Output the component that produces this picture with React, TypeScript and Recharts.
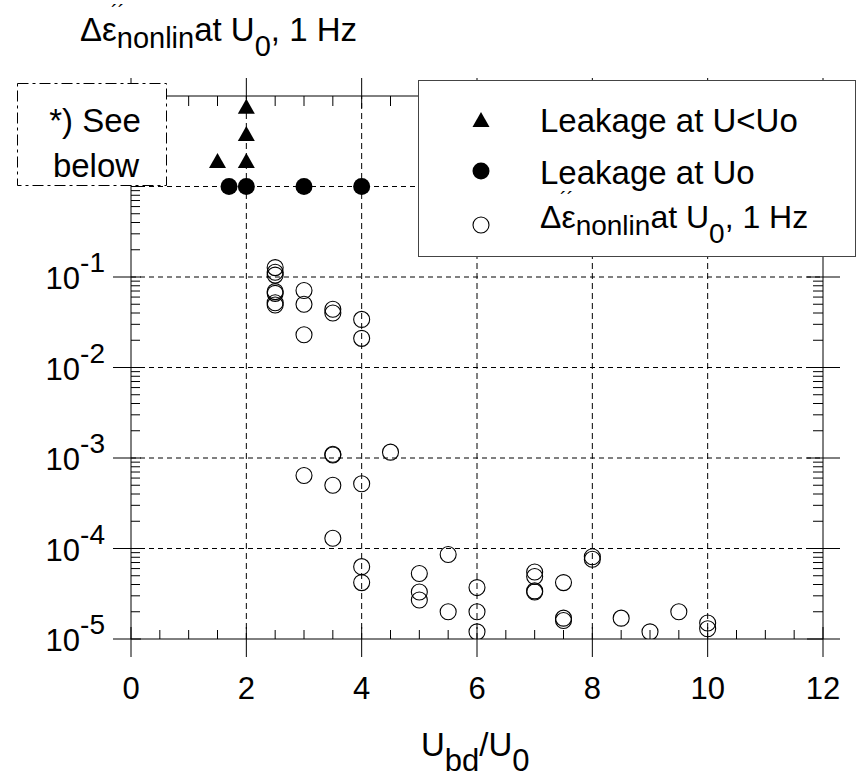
import React from 'react';
import { ScatterChart, Scatter, XAxis, YAxis, ReferenceLine, Legend } from 'recharts';

const FONT = '"Liberation Sans", Arial, Helvetica, sans-serif';

// axis ticks: minor every 0.5, labels every 2
const xTicks = [0, 0.5, 1, 1.5, 2, 2.5, 3, 3.5, 4, 4.5, 5, 5.5, 6, 6.5, 7, 7.5, 8, 8.5, 9, 9.5, 10, 10.5, 11, 11.5, 12];
const xGrid = [2, 4, 6, 8, 10];
const yDecades = [1e-5, 1e-4, 1e-3, 1e-2, 1e-1, 1, 10];
const yGrid = [1e-4, 1e-3, 1e-2, 1e-1, 1];
const yMantissas = [1, 2, 3, 4, 5, 6, 7, 8, 9];
const yTicks = yDecades.flatMap((d, i) => (i === yDecades.length - 1 ? [d] : yMantissas.map((m) => m * d)));

// series
const leakBelow = [
  { x: 1.5, y: 1.87 },
  { x: 2, y: 1.87 },
  { x: 2, y: 3.7 },
  { x: 2, y: 7.4 },
];
const leakAt = [
  { x: 1.7, y: 1 },
  { x: 2, y: 1 },
  { x: 3, y: 1 },
  { x: 4, y: 1 },
];
const epsNonlin = [
  { x: 2.5, y: 0.127 }, { x: 2.5, y: 0.113 }, { x: 2.5, y: 0.105 }, { x: 2.5, y: 0.069 },
  { x: 2.5, y: 0.066 }, { x: 2.5, y: 0.052 }, { x: 2.5, y: 0.049 },
  { x: 3, y: 0.071 }, { x: 3, y: 0.05 }, { x: 3, y: 0.023 }, { x: 3, y: 6.4e-4 },
  { x: 3.5, y: 0.044 }, { x: 3.5, y: 0.04 }, { x: 3.5, y: 1.08e-3 }, { x: 3.5, y: 1.1e-3 },
  { x: 3.5, y: 5.0e-4 }, { x: 3.5, y: 1.3e-4 },
  { x: 4, y: 0.034 }, { x: 4, y: 0.021 }, { x: 4, y: 5.2e-4 }, { x: 4, y: 6.3e-5 }, { x: 4, y: 4.2e-5 },
  { x: 4.5, y: 1.16e-3 },
  { x: 5, y: 5.3e-5 }, { x: 5, y: 3.3e-5 }, { x: 5, y: 2.7e-5 },
  { x: 5.5, y: 8.6e-5 }, { x: 5.5, y: 2.0e-5 },
  { x: 6, y: 3.7e-5 }, { x: 6, y: 2.0e-5 }, { x: 6, y: 1.2e-5 },
  { x: 7, y: 5.5e-5 }, { x: 7, y: 4.9e-5 }, { x: 7, y: 3.4e-5 }, { x: 7, y: 3.3e-5 },
  { x: 7.5, y: 4.2e-5 }, { x: 7.5, y: 1.7e-5 }, { x: 7.5, y: 1.6e-5 },
  { x: 8, y: 8.1e-5 }, { x: 8, y: 7.6e-5 },
  { x: 8.5, y: 1.7e-5 },
  { x: 9, y: 1.2e-5 },
  { x: 9.5, y: 2.0e-5 },
  { x: 10, y: 1.5e-5 }, { x: 10, y: 1.3e-5 },
];

const isDecade = (v: number) => Math.abs(Math.log10(v) - Math.round(Math.log10(v))) < 1e-6;

function BottomTick({ x, y, payload }: any) {
  const v = payload.value;
  const major = v % 2 === 0;
  return (
    <g>
      <line x1={x} x2={x} y1={y - (major ? 12 : 9)} y2={y + (major ? 18 : 0)} stroke="#000" />
      {major && (
        <text x={x} y={y + 60} textAnchor="middle" fontSize={31} fontFamily={FONT} fill="#000">
          {v}
        </text>
      )}
    </g>
  );
}

function TopTick({ x, y, payload }: any) {
  const major = payload.value % 2 === 0;
  return <line x1={x} x2={x} y1={y - (major ? 18 : 0)} y2={y + (major ? 12 : 10)} stroke="#000" />;
}

function LeftTick({ x, y, payload }: any) {
  const v = payload.value;
  const major = isDecade(v);
  const e = Math.round(Math.log10(v));
  return (
    <g>
      <line x1={x - (major && e < 0 ? 18 : 0)} x2={x + (major ? 10 : 9)} y1={y} y2={y} stroke="#000" />
      {major && e < 0 && (
        <text x={x - 26} y={y + 12} textAnchor="end" fontSize={31} fontFamily={FONT} fill="#000">
          10<tspan dy={-17} fontSize={28}>{'-' + Math.abs(e)}</tspan>
        </text>
      )}
    </g>
  );
}

function RightTick({ x, y, payload }: any) {
  const major = isDecade(payload.value);
  return <line x1={x - (major ? 16 : 10)} x2={x + (major ? 17 : 0)} y1={y} y2={y} stroke="#000" />;
}

const Triangle = ({ cx, cy }: any) => (
  <polygon points={`${cx},${cy - 9} ${cx - 8.5},${cy + 6} ${cx + 8.5},${cy + 6}`} fill="#000" />
);
const Dot = ({ cx, cy }: any) => <circle cx={cx} cy={cy} r={8.5} fill="#000" />;
const Ring = ({ cx, cy }: any) => <circle cx={cx} cy={cy} r={8} fill="none" stroke="#000" strokeWidth={1.1} />;

function EpsLabel({ x, y, size, px, py }: { x: number; y: number; size: number; px: number; py: number }) {
  const sub = size - 4;
  return (
    <g fontFamily={FONT} fill="#000">
      <text x={x} y={y} fontSize={size}>
        Δε<tspan dy={7} fontSize={sub}>nonlin</tspan>
        <tspan dy={-7} fontSize={size}>at U</tspan>
        <tspan dy={15} fontSize={sub}>0</tspan>
        <tspan dy={-15} fontSize={size}>, 1 Hz</tspan>
      </text>
      <text x={x + px} y={y + py} fontSize={20}>´´</text>
    </g>
  );
}

function LegendBox({ payload }: any) {
  const rows = [
    { base: 51, sym: 40 },
    { base: 103, sym: 90 },
    { base: 147, sym: 144 },
  ];
  return (
    <div style={{ width: 438, height: 177, background: '#fff', border: '1.5px solid #444', boxSizing: 'border-box' }}>
      <svg width={436} height={174} style={{ display: 'block' }}>
        {(payload || []).map((p: any, i: number) => {
          const r = rows[i];
          if (!r) return null;
          const cx = 62;
          return (
            <g key={i}>
              {i === 0 && <Triangle cx={cx} cy={r.sym} />}
              {i === 1 && <Dot cx={cx} cy={r.sym} />}
              {i === 2 && <Ring cx={cx} cy={r.sym} />}
              {i < 2 ? (
                <text x={121} y={r.base} fontSize={33} fontFamily={FONT} fill="#000">
                  {p.value}
                </text>
              ) : (
                <EpsLabel x={121} y={r.base} size={32} px={20} py={-22} />
              )}
            </g>
          );
        })}
      </svg>
    </div>
  );
}

export default function App() {
  return (
    <div style={{ position: 'absolute', left: 0, top: 0, width: 857, height: 778, background: '#fff' }}>
      <ScatterChart width={857} height={778} margin={{ top: 95, right: 33, bottom: 138, left: 130 }}>
        {xGrid.map((v) => (
          <ReferenceLine key={'gx' + v} x={v} stroke="#000" strokeDasharray="6 4" />
        ))}
        {yGrid.map((v) => (
          <ReferenceLine key={'gy' + v} y={v} stroke="#000" strokeDasharray="5 4" />
        ))}
        <XAxis
          type="number"
          dataKey="x"
          domain={[0, 12]}
          ticks={xTicks}
          interval={0}
          height={1}
          tickSize={0}
          tickMargin={0}
          tickLine={false}
          axisLine={{ stroke: '#000' }}
          tick={BottomTick}
          allowDataOverflow
        />
        <XAxis
          xAxisId="top"
          orientation="top"
          type="number"
          dataKey="x"
          domain={[0, 12]}
          ticks={xTicks}
          interval={0}
          height={1}
          tickSize={0}
          tickMargin={0}
          tickLine={false}
          axisLine={{ stroke: '#000' }}
          tick={TopTick}
          allowDataOverflow
        />
        <YAxis
          type="number"
          dataKey="y"
          scale="log"
          domain={[1e-5, 10]}
          ticks={yTicks}
          interval={0}
          width={1}
          tickSize={0}
          tickMargin={0}
          tickLine={false}
          axisLine={{ stroke: '#000' }}
          tick={LeftTick}
          allowDataOverflow
        />
        <YAxis
          yAxisId="right"
          orientation="right"
          type="number"
          dataKey="y"
          scale="log"
          domain={[1e-5, 10]}
          ticks={yTicks}
          interval={0}
          width={1}
          tickSize={0}
          tickMargin={0}
          tickLine={false}
          axisLine={{ stroke: '#000' }}
          tick={RightTick}
          allowDataOverflow
        />
        <Scatter name="Leakage at U<Uo" data={leakBelow} shape={Triangle} legendType="triangle" fill="#000" isAnimationActive={false} />
        <Scatter name="Leakage at Uo" data={leakAt} shape={Dot} legendType="circle" fill="#000" isAnimationActive={false} />
        <Scatter name="Δε''nonlin at U0, 1 Hz" data={epsNonlin} shape={Ring} legendType="circle" fill="#fff" isAnimationActive={false} />
        <Legend
          layout="horizontal"
          verticalAlign="middle"
          align="center"
          width={438}
          height={177}
          wrapperStyle={{ left: 418, top: 80, width: 438, height: 177 }}
          content={<LegendBox />}
        />
      </ScatterChart>
      <svg width={857} height={778} style={{ position: 'absolute', left: 0, top: 0, pointerEvents: 'none' }}>
        <EpsLabel x={80} y={41} size={33} px={31} py={-22} />
        <rect x={17.5} y={83.5} width={149} height={102} fill="#fff" stroke="#000" strokeDasharray="11 4 3 4" />
        <text x={95} y={132} textAnchor="middle" fontSize={33} fontFamily={FONT}>*) See</text>
        <text x={96} y={177} textAnchor="middle" fontSize={33} fontFamily={FONT}>below</text>
        <text x={421} y={756} fontSize={33} fontFamily={FONT}>
          U<tspan dy={15} fontSize={31}>bd</tspan>
          <tspan dy={-15} fontSize={33}>/U</tspan>
          <tspan dy={15} fontSize={31}>0</tspan>
        </text>
      </svg>
    </div>
  );
}
